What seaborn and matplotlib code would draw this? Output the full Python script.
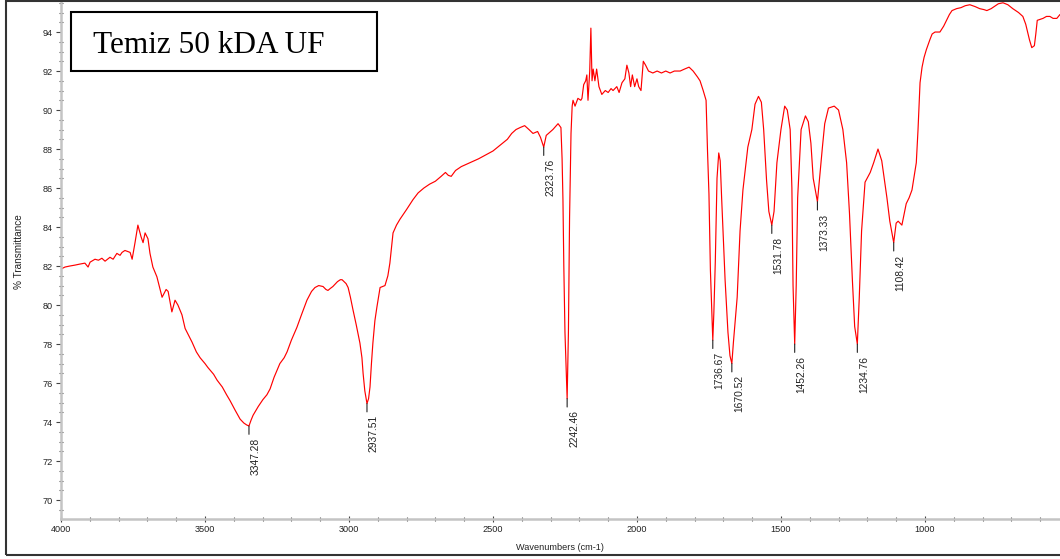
import numpy as np
import pandas as pd
import matplotlib
matplotlib.use("Agg")
import matplotlib.pyplot as plt
from matplotlib.patches import Rectangle
from matplotlib.ticker import MultipleLocator
import seaborn as sns

# FTIR spectrum: wavenumber (cm-1) and % transmittance
wavenumber = [
    4000, 3986, 3970, 3951, 3935, 3917, 3906, 3899, 3882, 3870, 3858, 3847,
    3830, 3819, 3806, 3795, 3788, 3778, 3760, 3753, 3743, 3733, 3722, 3715,
    3708, 3698, 3691, 3681, 3667, 3649, 3635, 3628, 3615, 3604, 3594, 3580,
    3569, 3545, 3530, 3517, 3500, 3490, 3470, 3458, 3440, 3425, 3413, 3395,
    3378, 3365, 3355, 3347.28, 3340, 3333, 3315, 3299, 3285, 3274, 3260, 3240,
    3225, 3215, 3200, 3181, 3165, 3146, 3130, 3118, 3105, 3090, 3080, 3073,
    3065, 3056, 3040, 3030, 3024, 3010, 3003, 2995, 2986, 2975, 2962, 2955,
    2951, 2945, 2937.51, 2932, 2927, 2922, 2917, 2910, 2903, 2892, 2875, 2865,
    2858, 2852, 2847, 2835, 2823, 2800, 2778, 2760, 2740, 2720, 2700, 2680,
    2665, 2655, 2645, 2630, 2610, 2580, 2550, 2525, 2500, 2475, 2450, 2435,
    2420, 2406, 2390, 2375, 2361, 2345, 2335, 2323.76, 2315, 2300, 2292, 2280,
    2274, 2264, 2260, 2257, 2254, 2250, 2242.46, 2238, 2234, 2229, 2225, 2222,
    2215, 2205, 2195, 2191, 2185, 2178, 2174, 2170, 2164, 2160, 2156, 2152,
    2146, 2140, 2132, 2122, 2110, 2100, 2090, 2083, 2070, 2062, 2052, 2042,
    2035, 2028, 2022, 2016, 2008, 2000, 1994, 1986, 1978, 1970, 1960, 1945,
    1930, 1915, 1900, 1885, 1870, 1850, 1835, 1819, 1805, 1790, 1781, 1770,
    1760, 1755, 1750, 1745, 1740, 1736.67, 1733, 1728, 1722, 1716, 1711, 1706,
    1694, 1684, 1677, 1670.52, 1665, 1652, 1642, 1632, 1615, 1601, 1590, 1578,
    1568, 1560, 1550, 1542, 1531.78, 1524, 1514, 1500, 1487, 1478, 1468, 1462,
    1458, 1452.26, 1447, 1442, 1430, 1415, 1405, 1396, 1388, 1373.33, 1366,
    1356, 1348, 1335, 1315, 1300, 1285, 1272, 1262, 1252, 1244, 1234.76, 1228,
    1220, 1208, 1190, 1178, 1163, 1150, 1132, 1122, 1108.42, 1100, 1093, 1080,
    1065, 1055, 1045, 1030, 1024, 1017, 1010, 1003, 995, 983, 975, 965, 948,
    935, 925, 915, 906, 890, 875, 860, 844, 825, 810, 795, 785, 770, 760, 745,
    729, 712, 695, 675, 660, 650, 645, 637, 629, 620, 615, 610, 600, 590, 578,
    566, 555, 542, 531,
]
transmittance = [
    81.85, 81.95, 82.0, 82.05, 82.1, 82.15, 81.95, 82.2, 82.35, 82.3, 82.4, 82.25,
    82.45, 82.35, 82.65, 82.55, 82.7, 82.8, 82.7, 82.35, 83.2, 84.1, 83.5, 83.2,
    83.7, 83.4, 82.65, 81.95, 81.45, 80.4, 80.8, 80.7, 79.65, 80.25, 80.0, 79.5,
    78.8, 78.1, 77.6, 77.3, 77.0, 76.8, 76.45, 76.15, 75.8, 75.4, 75.1, 74.6,
    74.15, 73.95, 73.85, 73.8, 74.1, 74.35, 74.8, 75.15, 75.4, 75.7, 76.3, 77.0,
    77.3, 77.6, 78.2, 78.85, 79.5, 80.25, 80.7, 80.9, 81.0, 80.95, 80.8, 80.75,
    80.85, 80.95, 81.2, 81.3, 81.3, 81.1, 80.9, 80.4, 79.75, 79.0, 78.05, 77.3,
    76.5, 75.6, 74.95, 75.2, 75.8, 77.0, 78.05, 79.2, 79.9, 80.9, 81.0, 81.5,
    82.15, 83.0, 83.7, 84.1, 84.4, 84.9, 85.4, 85.75, 86.0, 86.2, 86.35, 86.6,
    86.8, 86.65, 86.6, 86.9, 87.1, 87.3, 87.5, 87.7, 87.9, 88.2, 88.5, 88.8,
    89.0, 89.1, 89.2, 89.0, 88.8, 88.9, 88.6, 88.1, 88.7, 88.9, 89.0, 89.2,
    89.3, 89.1, 87.5, 85.4, 82.0, 78.6, 75.2, 78.6, 84.5, 88.8, 90.2, 90.5,
    90.2, 90.6, 90.5, 90.6, 91.3, 91.5, 91.8, 90.5, 92.0, 94.2, 91.5, 92.1,
    91.5, 92.1, 91.2, 90.8, 91.0, 90.9, 91.1, 91.0, 91.2, 90.9, 91.4, 91.6,
    92.3, 91.9, 91.2, 91.8, 91.2, 91.6, 91.2, 91.0, 92.5, 92.3, 92.0, 91.9,
    92.0, 91.9, 92.0, 91.9, 92.0, 92.0, 92.1, 92.2, 92.0, 91.7, 91.5, 91.0,
    90.5, 87.9, 85.7, 81.8, 79.6, 78.2, 79.6, 82.2, 86.5, 87.8, 87.4, 85.5,
    81.3, 78.6, 77.4, 77.0, 78.1, 80.4, 83.8, 85.9, 88.1, 89.0, 90.3, 90.7,
    90.4, 89.0, 86.4, 84.8, 84.1, 84.8, 87.3, 89.0, 90.2, 90.0, 89.0, 86.0,
    81.0, 78.0, 81.0, 85.5, 89.0, 89.7, 89.4, 88.3, 86.5, 85.3, 86.5, 88.1,
    89.3, 90.1, 90.2, 90.0, 89.0, 87.3, 84.7, 81.3, 78.9, 78.0, 80.4, 83.8,
    86.3, 86.8, 87.3, 88.0, 87.4, 85.5, 84.3, 83.2, 84.2, 84.3, 84.1, 85.2,
    85.5, 85.9, 87.3, 89.0, 91.4, 92.2, 92.7, 93.1, 93.6, 93.9, 94.0, 94.0,
    94.3, 94.6, 94.9, 95.1, 95.2, 95.25, 95.35, 95.4, 95.3, 95.2, 95.15, 95.1,
    95.2, 95.3, 95.45, 95.5, 95.4, 95.2, 95.0, 94.8, 94.4, 94.1, 93.6, 93.2,
    93.3, 93.9, 94.6, 94.65, 94.7, 94.8, 94.8, 94.7, 94.7, 94.9,
]

# labelled absorption bands
peak_wavenumbers = [3347.28, 2937.51, 2323.76, 2242.46, 1736.67, 1670.52,
                    1531.78, 1452.26, 1373.33, 1234.76, 1108.42]

x_ticks = [4000, 3500, 3000, 2500, 2000, 1500, 1000]
y_ticks = [70, 72, 74, 76, 78, 80, 82, 84, 86, 88, 90, 92, 94]
sample_name = "Temiz 50 kDA UF"

sns.set_theme(style="white")
plt.rcParams["font.family"] = ["Liberation Sans", "DejaVu Sans"]

W, H = 1060, 559
fig = plt.figure(figsize=(W / 100, H / 100), dpi=100)
fig.patch.set_facecolor("white")

# plot area in pixel coordinates
left, right, top, bottom = 61, 1060, 2, 519
ax = fig.add_axes([left / W, 1 - bottom / H, (right - left) / W, (bottom - top) / H])
ax.set_facecolor("white")

df = pd.DataFrame({"wavenumber": wavenumber, "transmittance": transmittance})
sns.lineplot(data=df, x="wavenumber", y="transmittance", sort=False,
             estimator=None, color="#ff0000", linewidth=0.85, ax=ax)

ax.set_xlim(4000, 531)
ax.set_ylim(69.03, 95.54)

ax.set_xticks(x_ticks)
ax.set_yticks(y_ticks)
ax.xaxis.set_minor_locator(MultipleLocator(100))
ax.yaxis.set_minor_locator(MultipleLocator(0.5))
ax.set_xticklabels([str(t) for t in x_ticks])
ax.set_yticklabels([str(t) for t in y_ticks])

for side in ("top", "right"):
    ax.spines[side].set_visible(False)
for side in ("left", "bottom"):
    ax.spines[side].set_color("#c4c4c4")
    ax.spines[side].set_linewidth(1.8)

ax.tick_params(axis="both", which="major", direction="out", length=3.5,
               width=0.8, color="#444444", labelsize=6.6,
               labelcolor="#222222", pad=2.5)
ax.tick_params(axis="both", which="minor", direction="inout", length=2.5,
               width=0.8, color="#555555")
ax.tick_params(axis="x", which="major", direction="inout", length=4)
ax.tick_params(left=True, bottom=True, which="both")
ax.set_xlabel("")
ax.set_ylabel("")

# peak markers and rotated wavenumber labels
peak_T = np.interp(peak_wavenumbers, wavenumber[::-1], transmittance[::-1])
for wn, t in zip(peak_wavenumbers, peak_T):
    ax.annotate("", xy=(wn, t), xytext=(0, -6.0), textcoords="offset points",
                arrowprops=dict(arrowstyle="-", color="#222222", lw=0.8,
                                shrinkA=0, shrinkB=0))
    ax.annotate(f"{wn:.2f}", xy=(wn, t), xytext=(5, -8.5),
                textcoords="offset points", rotation=90, ha="center",
                va="top", fontsize=7.4, color="#222222")

# axis titles
fig.text(560 / W, 1 - 548 / H, "Wavenumbers (cm-1)", ha="center",
         va="center", fontsize=6.6, color="#222222")
fig.text(19 / W, 1 - 252 / H, "% Transmittance", ha="center", va="center",
         rotation=90, fontsize=7.2, color="#222222")

# sample name box
fig.patches.append(Rectangle((71 / W, 1 - 71 / H), (377 - 71) / W, (71 - 12) / H,
                             transform=fig.transFigure, fill=False,
                             edgecolor="black", linewidth=1.5))
fig.text(93 / W, 1 - 53 / H, sample_name, ha="left", va="baseline",
         fontsize=22.5, family=["Liberation Serif", "DejaVu Serif"],
         color="black")

# outer frame
fig.patches.append(Rectangle((6 / W, 4 / H), 1.2, (H - 5) / H,
                             transform=fig.transFigure, fill=False,
                             edgecolor="#333333", linewidth=1.5, clip_on=False))

fig.savefig("out.png", dpi=100, facecolor="white")
